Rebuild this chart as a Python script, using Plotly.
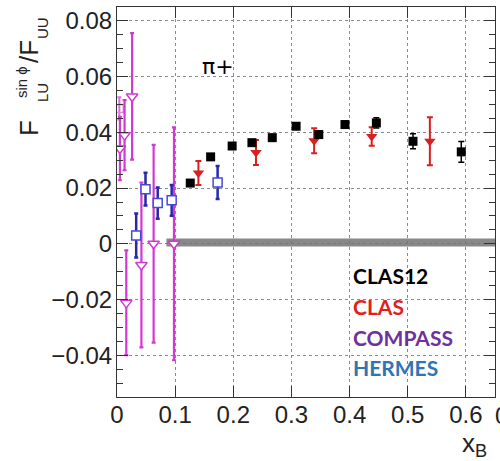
import plotly.graph_objects as go

# ---------------- data ----------------
clas12_x = [0.126, 0.161, 0.198, 0.232, 0.267, 0.308, 0.347, 0.392, 0.446, 0.509, 0.592]
clas12_y = [0.0218, 0.0312, 0.0351, 0.0363, 0.0381, 0.0422, 0.0392, 0.0428, 0.0434, 0.0368, 0.0330]
clas12_err = [0.0008, 0.0008, 0.0008, 0.0009, 0.0009, 0.0010, 0.0012, 0.0013, 0.0018, 0.0027, 0.0037]

clas_x = [0.140, 0.239, 0.339, 0.438, 0.538]
clas_y = [0.0254, 0.0328, 0.0370, 0.0385, 0.0368]
clas_err = [0.0043, 0.0045, 0.0045, 0.0033, 0.0086]

hermes_x = [0.033, 0.049, 0.070, 0.094, 0.173]
hermes_y = [0.0030, 0.0196, 0.0146, 0.0156, 0.0220]
hermes_err = [0.0079, 0.0059, 0.0056, 0.0055, 0.0059]

compass_x = [0.005, 0.013, 0.016, 0.026, 0.042, 0.063, 0.098]
compass_y = [0.0342, 0.0390, -0.0212, 0.0529, -0.0076, 0.0000, 0.0000]
compass_err = [0.0114, 0.0126, 0.0188, 0.0227, 0.0296, 0.0355, 0.0418]

compass_sq_x = [0.004]
compass_sq_y = [0.0486]
compass_sq_err = [0.004]

band_x = [0.085, 0.65]
band_lo = [-0.0010, -0.0010]
band_hi = [0.0019, 0.0019]

x_ticks = [0, 0.1, 0.2, 0.3, 0.4, 0.5, 0.6]
x_ticklabels = ["0", "0.1", "0.2", "0.3", "0.4", "0.5", "0.6"]
y_ticks = [-0.04, -0.02, 0, 0.02, 0.04, 0.06, 0.08]
y_ticklabels = ["−0.04", "−0.02", "0", "0.02", "0.04", "0.06", "0.08"]

legend_names = ["CLAS12", "CLAS", "COMPASS", "HERMES"]
legend_colors = ["#000000", "#e0201c", "#7030a0", "#2e75b6"]

# ---------------- figure ----------------
W, H = 500, 461
L, R, T, B = 117, 5, 7, 64
pw, ph = W - L - R, H - T - B

def px(xp):
    return (xp - L) / pw

def py(yp):
    return (H - B - yp) / ph

fig = go.Figure()

# systematic band
fig.add_trace(go.Scatter(x=band_x + band_x[::-1], y=band_hi + band_lo[::-1],
                         fill="toself", fillcolor="rgba(115,115,115,0.85)",
                         line=dict(width=0), mode="lines", hoverinfo="skip",
                         showlegend=False))

magenta = "#d03ad0"
fig.add_trace(go.Scatter(x=compass_sq_x, y=compass_sq_y, mode="markers",
                         marker=dict(symbol="square-open", size=8, color="#e08ae0",
                                     line=dict(width=1.5)),
                         error_y=dict(type="data", array=compass_sq_err, color="#e06ae0",
                                      thickness=2, width=2),
                         showlegend=False))
fig.add_trace(go.Scatter(x=compass_x, y=compass_y, mode="markers",
                         marker=dict(symbol="triangle-down", size=10, color="white",
                                     line=dict(width=1.5, color=magenta)),
                         error_y=dict(type="data", array=compass_err, color=magenta,
                                      thickness=2.2, width=2),
                         showlegend=False))

fig.add_trace(go.Scatter(x=hermes_x, y=hermes_y, mode="markers",
                         marker=dict(symbol="square", size=9, color="white",
                                     line=dict(width=1.5, color="#4848d8")),
                         error_y=dict(type="data", array=hermes_err, color="#2828a8",
                                      thickness=2.5, width=2),
                         showlegend=False))

fig.add_trace(go.Scatter(x=clas_x, y=clas_y, mode="markers",
                         marker=dict(symbol="triangle-down", size=10, color="#d82020",
                                     line=dict(width=0)),
                         error_y=dict(type="data", array=clas_err, color="#d82020",
                                      thickness=2, width=3),
                         showlegend=False))

fig.add_trace(go.Scatter(x=clas12_x, y=clas12_y, mode="markers",
                         marker=dict(symbol="square", size=9, color="black",
                                     line=dict(width=0)),
                         error_y=dict(type="data", array=clas12_err, color="black",
                                      thickness=1.5, width=3),
                         showlegend=False))

axis_common = dict(showline=True, linecolor="#333", linewidth=1.2, mirror="allticks",
                   ticks="inside", tickcolor="#333", tickwidth=1.2,
                   showgrid=True, gridcolor="#8a8a8a", griddash="dot", gridwidth=1,
                   zeroline=False,
                   tickfont=dict(family="Liberation Sans, Arial, sans-serif", size=24,
                                 color="#222"))

fig.update_xaxes(range=[0, 0.65], tickvals=x_ticks, ticktext=x_ticklabels,
                 ticklen=11, ticklabelstandoff=-4, **axis_common)
fig.update_yaxes(range=[-0.055, 0.085], tickvals=y_ticks, ticktext=y_ticklabels,
                 ticklen=11, ticklabelstandoff=-1,
                 minor=dict(dtick=0.005, ticks="inside", ticklen=6, tickcolor="#333",
                            showgrid=False, tick0=0),
                 **axis_common)

annos = []
# π+ label
annos.append(dict(text="π+", x=px(218), y=py(66), xref="paper", yref="paper",
                  xanchor="center", yanchor="middle",
                  showarrow=False, font=dict(family="DejaVu Sans, Liberation Sans", size=22,
                                             color="black")))
# legend texts
leg_y = [275, 306, 337, 367]
for name, col, yy in zip(legend_names, legend_colors, leg_y):
    annos.append(dict(text="<b>" + name + "</b>", x=px(351), y=py(yy), xref="paper",
                      yref="paper", xanchor="left", yanchor="middle", showarrow=False,
                      font=dict(family="Lato, Open Sans, sans-serif", size=21, color=col)))
# x-axis title
annos.append(dict(text="x<sub>B</sub>", x=px(474), y=py(444), xref="paper", yref="paper",
                  xanchor="center", yanchor="middle",
                  showarrow=False, font=dict(family="Liberation Sans, Arial", size=26,
                                             color="#222")))
# partial clipped tick label at right edge
annos.append(dict(text="0.7", x=px(493), y=py(415), xref="paper", yref="paper",
                  xanchor="left", yanchor="middle", showarrow=False,
                  font=dict(family="Liberation Sans, Arial", size=24, color="#222")))
# y-axis title pieces (rotated)
fam = "Liberation Sans, Arial"
ypieces = [("F", 29, 128, 26), ("sin ϕ", 21, 82, 15), ("LU", 42, 93, 15),
           ("/F", 29, 52, 26), ("UU", 42, 28, 15)]
for t, xx, yy, fs in ypieces:
    annos.append(dict(text=t, x=px(xx), y=py(yy), xref="paper", yref="paper",
                      textangle=-90, showarrow=False, xanchor="center", yanchor="middle",
                      font=dict(family=fam, size=fs, color="#222")))

fig.update_layout(width=W, height=H, margin=dict(l=L, r=R, t=T, b=B, pad=0),
                  plot_bgcolor="white", paper_bgcolor="white", annotations=annos,
                  showlegend=False)

fig.write_html("out.html")
